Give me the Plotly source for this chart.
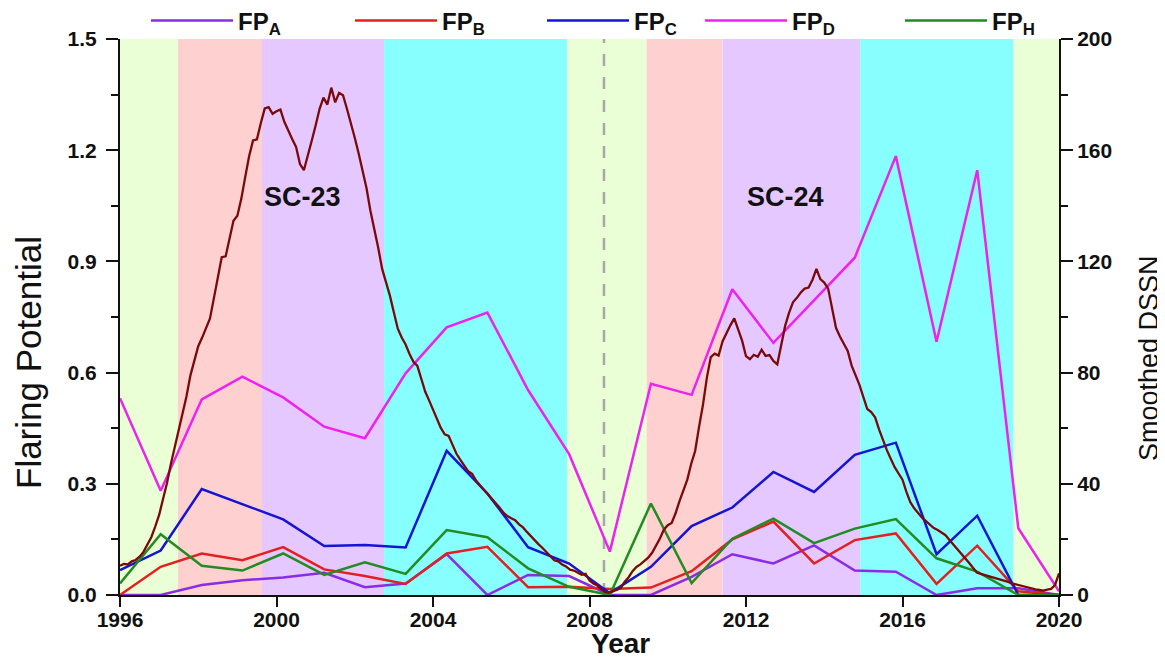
import plotly.graph_objects as go

# ---------------- data ----------------
fp_years = [1996.00, 1997.04, 1998.09, 1999.13, 2000.17, 2001.22, 2002.26, 2003.30,
            2004.35, 2005.39, 2006.43, 2007.48, 2008.52, 2009.57, 2010.61, 2011.65,
            2012.70, 2013.74, 2014.78, 2015.83, 2016.87, 2017.91, 2018.96, 2020.00]

fp_a = [0.000, 0.000, 0.027, 0.040, 0.047, 0.060, 0.021, 0.031, 0.110, 0.000, 0.054, 0.051,
        0.000, 0.000, 0.049, 0.110, 0.085, 0.134, 0.066, 0.063, 0.000, 0.018, 0.018, 0.000]
fp_b = [0.000, 0.076, 0.112, 0.094, 0.129, 0.069, 0.051, 0.030, 0.112, 0.130, 0.021, 0.022,
        0.016, 0.020, 0.064, 0.150, 0.198, 0.085, 0.148, 0.166, 0.030, 0.133, 0.010, 0.000]
fp_c = [0.067, 0.120, 0.286, 0.245, 0.204, 0.132, 0.135, 0.128, 0.389, 0.274, 0.129, 0.085,
        0.005, 0.076, 0.186, 0.236, 0.332, 0.278, 0.378, 0.411, 0.110, 0.214, 0.000, 0.000]
fp_d = [0.531, 0.281, 0.528, 0.589, 0.533, 0.454, 0.423, 0.598, 0.722, 0.762, 0.553, 0.380,
        0.117, 0.570, 0.540, 0.825, 0.680, 0.795, 0.910, 1.184, 0.683, 1.146, 0.180, 0.010]
fp_h = [0.031, 0.164, 0.079, 0.066, 0.112, 0.054, 0.088, 0.057, 0.175, 0.156, 0.072, 0.022,
        0.000, 0.247, 0.032, 0.152, 0.206, 0.140, 0.179, 0.205, 0.099, 0.063, 0.000, 0.000]

dssn_start = 1996.0
dssn_step = 0.1
dssn = [
    10.5, 11.2, 11.0, 12.1, 12.6, 13.8, 15.5, 17.9, 20.8, 24.6,
    28.8, 34.5, 40.2, 47.1, 53.0, 58.6, 65.2, 71.5, 79.0, 84.2,
    89.5, 92.6, 96.2, 99.5, 106.8, 114.6, 121.5, 121.8, 128.0, 134.6,
    136.4, 142.5, 150.3, 157.8, 163.5, 163.9, 169.8, 175.0, 175.5, 173.1,
    174.0, 174.6, 170.2, 166.8, 164.0, 161.2, 155.0, 152.8, 158.6, 163.4,
    168.9, 174.8, 178.9, 176.4, 182.5, 177.2, 180.6, 179.8, 174.9, 170.1,
    164.5, 158.8, 153.0, 146.4, 138.2, 132.1, 124.9, 117.3, 112.5, 107.6,
    101.6, 95.8, 92.6, 90.1, 86.7, 83.9, 82.4, 77.6, 73.2, 70.0,
    66.8, 63.5, 60.1, 57.8, 57.2, 54.0, 50.8, 48.6, 46.3, 44.5,
    43.6, 41.2, 39.5, 37.9, 36.4, 34.7, 33.3, 31.5, 29.6, 28.4,
    27.6, 26.9, 25.4, 24.3, 22.7, 21.1, 19.6, 18.2, 16.9, 15.3,
    13.9, 12.5, 12.1, 11.0, 10.3, 9.1, 8.8, 8.0, 7.3, 7.6,
    5.2, 4.1, 3.4, 2.1, 1.0, 0.9, 1.5, 1.8, 2.6, 4.8,
    6.4, 8.6, 10.1, 11.0, 12.2, 13.4, 15.2, 17.6, 20.3, 23.5,
    25.1, 25.9, 29.4, 33.8, 37.6, 41.5, 47.2, 51.8, 60.5, 68.4,
    78.2, 85.6, 86.8, 86.1, 91.2, 94.3, 97.0, 99.5, 95.6, 91.5,
    85.9, 84.8, 86.4, 85.7, 88.2, 86.0, 86.3, 84.2, 83.0, 89.4,
    96.8, 101.5, 105.3, 106.9, 108.8, 110.2, 110.6, 113.4, 117.3, 113.6,
    112.4, 110.2, 102.8, 96.1, 93.0, 90.2, 87.8, 82.5, 79.0, 75.6,
    71.2, 66.9, 65.8, 63.9, 59.6, 55.8, 52.1, 49.0, 46.0, 43.7,
    41.5, 37.1, 33.4, 31.2, 29.5, 27.8, 26.6, 25.2, 24.1, 23.4,
    22.6, 21.5, 19.8, 18.2, 16.6, 15.0, 13.5, 11.6, 9.8, 8.1,
    7.6, 7.2, 6.9, 6.3, 6.0, 5.6, 5.1, 4.7, 4.2, 3.8,
    3.4, 3.1, 2.6, 2.3, 2.0, 1.8, 1.6, 1.9, 2.2, 3.6,
    7.8,
]
dssn_years = [round(dssn_start + i * dssn_step, 2) for i in range(len(dssn))]

phase_edges = [1996.0, 1997.48, 1999.63, 2002.75, 2007.43, 2009.46, 2011.40, 2014.92, 2018.84, 2020.0]
phase_names = ["min", "rise", "max", "decline", "min", "rise", "max", "decline", "min"]
cycle_minimum = 2008.37

cycle_labels = ["SC-23", "SC-24"]
cycle_label_x = [2000.66, 2013.02]
cycle_label_y = [1.075, 1.075]

x_ticks = [1996, 2000, 2004, 2008, 2012, 2016, 2020]

# ---------------- styles ----------------
phase_colors = {"min": "#eaffd5", "rise": "#ffd0d0", "max": "#e4c8ff", "decline": "#88ffff"}
series = [
    ("FP<sub>A</sub>", fp_a, "#8a2be8"),
    ("FP<sub>B</sub>", fp_b, "#e32020"),
    ("FP<sub>C</sub>", fp_c, "#1414d2"),
    ("FP<sub>D</sub>", fp_d, "#ee22ee"),
    ("FP<sub>H</sub>", fp_h, "#228b22"),
]
legend_x_px = [138, 342, 534, 692, 892]

W, H = 1165, 660
# page body adds an 8px offset; margins are chosen so the plot area lands at x 120-1059, y 39-595
L, T = 112, 31
PW, PH = 939, 556
R, B = W - L - PW, H - T - PH

fig = go.Figure()

shapes = []
for i, name in enumerate(phase_names):
    shapes.append(dict(type="rect", xref="x", yref="paper", x0=phase_edges[i], x1=phase_edges[i + 1],
                       y0=0, y1=1, fillcolor=phase_colors[name], line=dict(width=0), layer="below"))
shapes.append(dict(type="line", xref="x", yref="paper", x0=cycle_minimum, x1=cycle_minimum, y0=0, y1=1,
                   line=dict(color="#a8a8a8", width=2.5, dash="12px,11px"), layer="below"))

legend_names = ["legend", "legend2", "legend3", "legend4", "legend5"]
for (name, vals, col), lg in zip(series, legend_names):
    fig.add_trace(go.Scatter(x=fp_years, y=vals, mode="lines", name=name,
                             line=dict(color=col, width=2.5), legend=lg, yaxis="y"))

fig.add_trace(go.Scatter(x=dssn_years, y=dssn, mode="lines", name="Smoothed DSSN",
                         line=dict(color="#7a0a0a", width=2.3), showlegend=False, yaxis="y2"))

annotations = []
for t, xv, yv in zip(cycle_labels, cycle_label_x, cycle_label_y):
    annotations.append(dict(x=xv, y=yv, xref="x", yref="y", text=t, showarrow=False,
                            font=dict(family="Liberation Sans", size=27, color="#111111", weight="bold")))


def px_to_paper(xw, yw):
    return (xw - 120) / PW, (595 - yw) / PH


ax, ay = px_to_paper(29, 363)
annotations.append(dict(x=ax, y=ay, xref="paper", yref="paper", text="Flaring Potential", textangle=-90,
                        showarrow=False, xanchor="center", yanchor="middle",
                        font=dict(family="Liberation Sans", size=35, color="#111111")))
ax, ay = px_to_paper(1149, 358)
annotations.append(dict(x=ax, y=ay, xref="paper", yref="paper", text="Smoothed DSSN", textangle=-90,
                        showarrow=False, xanchor="center", yanchor="middle",
                        font=dict(family="Liberation Sans", size=27, color="#111111")))
ax, ay = px_to_paper(620, 644)
annotations.append(dict(x=ax, y=ay, xref="paper", yref="paper", text="Year",
                        showarrow=False, xanchor="center", yanchor="middle",
                        font=dict(family="Liberation Sans", size=28, color="#111111", weight="bold")))

tickfont = dict(family="Liberation Sans", size=21, color="#111111", weight="bold")

layout_legends = {}
for lg, px in zip(legend_names, legend_x_px):
    layout_legends[lg] = dict(x=px / W, xref="container", y=1 - 13 / H, yref="container",
                              xanchor="left", yanchor="middle",
                              orientation="h", itemwidth=82, bgcolor="rgba(0,0,0,0)",
                              font=dict(family="Liberation Sans", size=24, color="#111111", weight="bold"))

fig.update_layout(
    width=W, height=H,
    margin=dict(l=L, r=R, t=T, b=B, autoexpand=False),
    paper_bgcolor="white", plot_bgcolor="white",
    shapes=shapes, annotations=annotations,
    xaxis=dict(range=[1996, 2020], tickvals=x_ticks, showgrid=False, zeroline=False, automargin=False,
               showline=True, linecolor="#111111", linewidth=2, ticks="outside", ticklen=10, tickwidth=2,
               tickcolor="#111111", tickfont=tickfont, ticklabelstandoff=-5),
    yaxis=dict(range=[0, 1.5], dtick=0.3, tick0=0, tickformat=".1f", showgrid=False, zeroline=False,
               automargin=False,
               showline=True, linecolor="#111111", linewidth=2, ticks="outside", ticklen=12, tickwidth=2,
               tickcolor="#111111", tickfont=tickfont, ticklabelstandoff=5,
               minor=dict(dtick=0.15, tick0=0, ticks="outside", ticklen=7, tickwidth=2, tickcolor="#111111")),
    yaxis2=dict(range=[0, 200], dtick=40, tick0=0, overlaying="y", side="right", showgrid=False, zeroline=False,
                automargin=False,
                showline=True, linecolor="#111111", linewidth=2, ticks="outside", ticklen=12, tickwidth=2,
                tickcolor="#111111", tickfont=tickfont,
                minor=dict(dtick=20, tick0=0, ticks="outside", ticklen=7, tickwidth=2, tickcolor="#111111")),
    **layout_legends,
)

fig.write_html("out.html")
